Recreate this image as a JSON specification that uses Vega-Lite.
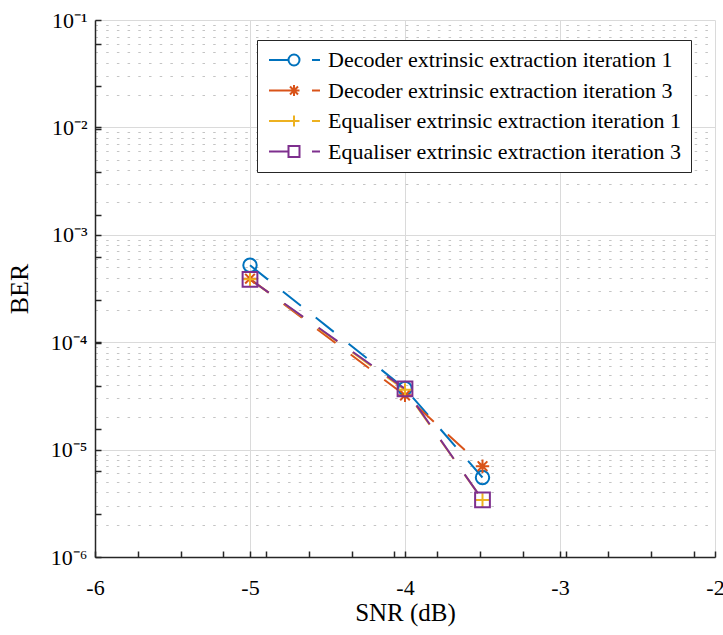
{
  "$schema": "https://vega.github.io/schema/vega-lite/v6.json",
  "width": 620,
  "height": 537,
  "autosize": "none",
  "padding": {"left": 95, "top": 20, "right": 8, "bottom": 78},
  "background": "white",
  "config": {
    "view": {"stroke": null},
    "font": "Liberation Serif",
    "axis": {
      "labelFont": "Liberation Serif",
      "titleFont": "Liberation Serif",
      "titleFontWeight": "normal",
      "labelColor": "#000000",
      "titleColor": "#000000",
      "domainColor": "#262626",
      "domainWidth": 1.5,
      "tickColor": "#262626",
      "tickWidth": 1.5,
      "tickSize": -6,
      "labelFlush": false,
      "labelOverlap": false,
      "labelBound": false,
      "labelFontSize": 22,
      "titleFontSize": 25
    }
  },
  "data": {
    "values": [
      {"series": "Decoder extrinsic extraction iteration 1", "snr": -5, "ber": 0.00052},
      {"series": "Decoder extrinsic extraction iteration 1", "snr": -4, "ber": 0.000037},
      {"series": "Decoder extrinsic extraction iteration 1", "snr": -3.5, "ber": 0.0000055},
      {"series": "Decoder extrinsic extraction iteration 3", "snr": -5, "ber": 0.00039},
      {"series": "Decoder extrinsic extraction iteration 3", "snr": -4, "ber": 0.000032},
      {"series": "Decoder extrinsic extraction iteration 3", "snr": -3.5, "ber": 0.0000070},
      {"series": "Equaliser extrinsic extraction iteration 1", "snr": -5, "ber": 0.000385},
      {"series": "Equaliser extrinsic extraction iteration 1", "snr": -4, "ber": 0.000036},
      {"series": "Equaliser extrinsic extraction iteration 1", "snr": -3.5, "ber": 0.0000034},
      {"series": "Equaliser extrinsic extraction iteration 3", "snr": -5, "ber": 0.000385},
      {"series": "Equaliser extrinsic extraction iteration 3", "snr": -4, "ber": 0.0000368},
      {"series": "Equaliser extrinsic extraction iteration 3", "snr": -3.5, "ber": 0.0000034}
    ]
  },
  "encoding": {
    "x": {
      "field": "snr",
      "type": "quantitative",
      "scale": {"domain": [-6, -2], "nice": false, "zero": false},
      "axis": {
        "title": "SNR (dB)",
        "values": [-6, -5, -4, -3, -2, -5.724, -5.448, -5.172, -4.896, -4.62, -4.344, -4.068, -3.792, -3.516, -3.24, -2.964, -2.688, -2.412, -2.136],
        "labelExpr": "abs(datum.value - round(datum.value)) < 1e-6 ? '' + round(datum.value) : ''",
        "grid": true,
        "gridColor": "#dadada",
        "gridWidth": 1,
        "gridOpacity": {"condition": {"test": "abs(datum.value - round(datum.value)) < 1e-6", "value": 1}, "value": 0},
        "labelPadding": 26,
        "titlePadding": 2
      }
    },
    "y": {
      "field": "ber",
      "type": "quantitative",
      "scale": {"type": "log", "domain": [0.000001, 0.1], "nice": false},
      "axis": {
        "title": "BER",
        "titleFontSize": 26,
        "values": [0.000001, 0.00001, 0.0001, 0.001, 0.01, 0.1,
          2e-6, 3e-6, 4e-6, 5e-6, 6e-6, 7e-6, 8e-6, 9e-6,
          2e-5, 3e-5, 4e-5, 5e-5, 6e-5, 7e-5, 8e-5, 9e-5,
          2e-4, 3e-4, 4e-4, 5e-4, 6e-4, 7e-4, 8e-4, 9e-4,
          2e-3, 3e-3, 4e-3, 5e-3, 6e-3, 7e-3, 8e-3, 9e-3,
          2e-2, 3e-2, 4e-2, 5e-2, 6e-2, 7e-2, 8e-2, 9e-2,
          2.502e-6, 6.262e-6, 1.567e-5, 3.923e-5, 9.817e-5, 2.457e-4, 6.149e-4, 1.539e-3, 3.851e-3, 9.638e-3, 2.412e-2, 6.037e-2],
        "labelExpr": "abs(log(datum.value)/LN10 - round(log(datum.value)/LN10)) < 1e-6 ? ['10⁻¹','10⁻²','10⁻³','10⁻⁴','10⁻⁵','10⁻⁶'][-round(log(datum.value)/LN10)-1] : ''",
        "grid": true,
        "gridWidth": 1,
        "gridOpacity": {"condition": {"test": "abs(log(datum.value)/LN10 - round(log(datum.value)/LN10)) < 1e-6 || abs(datum.value/pow(10,floor(log(datum.value)/LN10+1e-9)) - round(datum.value/pow(10,floor(log(datum.value)/LN10+1e-9)))) < 0.01", "value": 1}, "value": 0},
        "gridColor": {"condition": {"test": "abs(log(datum.value)/LN10 - round(log(datum.value)/LN10)) < 1e-6", "value": "#dadada"}, "value": "#c4c4c4"},
        "gridDash": {"condition": {"test": "abs(log(datum.value)/LN10 - round(log(datum.value)/LN10)) < 1e-6", "value": []}, "value": [2.5, 8.2]},
        "tickOpacity": {"condition": {"test": "abs(log(datum.value)/LN10 - round(log(datum.value)/LN10)) < 1e-6 || abs(datum.value/pow(10,floor(log(datum.value)/LN10+1e-9)) - round(datum.value/pow(10,floor(log(datum.value)/LN10+1e-9)))) >= 0.01", "value": 1}, "value": 0},
        "labelPadding": 14,
        "titlePadding": 18
      }
    }
  },
  "layer": [
    {
      "mark": {"type": "line", "strokeDash": [23, 19], "strokeWidth": 2},
      "encoding": {
        "color": {
          "field": "series",
          "type": "nominal",
          "scale": {
            "domain": ["Decoder extrinsic extraction iteration 1", "Decoder extrinsic extraction iteration 3", "Equaliser extrinsic extraction iteration 1", "Equaliser extrinsic extraction iteration 3"],
            "range": ["#0072BD", "#D95319", "#EDB120", "#7E2F8E"]
          },
          "legend": null
        }
      }
    },
    {
      "mark": {"type": "point", "filled": false, "strokeWidth": 2, "size": 180, "opacity": 1},
      "encoding": {
        "color": {
          "field": "series",
          "type": "nominal",
          "scale": {
            "domain": ["Decoder extrinsic extraction iteration 1", "Decoder extrinsic extraction iteration 3", "Equaliser extrinsic extraction iteration 1", "Equaliser extrinsic extraction iteration 3"],
            "range": ["#0072BD", "#D95319", "#EDB120", "#7E2F8E"]
          },
          "legend": null
        },
        "shape": {
          "field": "series",
          "type": "nominal",
          "scale": {
            "domain": ["Decoder extrinsic extraction iteration 1", "Decoder extrinsic extraction iteration 3", "Equaliser extrinsic extraction iteration 1", "Equaliser extrinsic extraction iteration 3"],
            "range": ["circle", "M0,-1V1M-1,0H1M-0.72,-0.72L0.72,0.72M-0.72,0.72L0.72,-0.72", "M0,-1V1M-1,0H1", "M-1.1,-1.1H1.1V1.1H-1.1Z"]
          },
          "legend": null
        }
      }
    },
    {
      "transform": [{"filter": "false"}],
      "mark": {"type": "point", "filled": false, "strokeWidth": 2, "size": 100, "opacity": 1},
      "encoding": {
        "color": {
          "field": "series",
          "type": "nominal",
          "scale": {
            "domain": ["Decoder extrinsic extraction iteration 1", "Decoder extrinsic extraction iteration 3", "Equaliser extrinsic extraction iteration 1", "Equaliser extrinsic extraction iteration 3"],
            "range": ["#0072BD", "#D95319", "#EDB120", "#7E2F8E"]
          },
          "legend": {
            "title": null,
            "orient": "none",
            "legendX": 162,
            "legendY": 20,
            "padding": 9,
            "rowPadding": 8.5,
            "strokeColor": "#262626",
            "fillColor": "white",
            "cornerRadius": 0,
            "labelFont": "Liberation Serif",
            "labelFontSize": 22,
            "labelColor": "#000000",
            "labelLimit": 0,
            "labelExpr": "datum.label + '\u2009'",
            "symbolSize": 100,
            "symbolStrokeWidth": 2,
            "symbolOpacity": 1,
            "symbolOffset": 17,
            "labelOffset": 23
          }
        },
        "shape": {
          "field": "series",
          "type": "nominal",
          "scale": {
            "domain": ["Decoder extrinsic extraction iteration 1", "Decoder extrinsic extraction iteration 3", "Equaliser extrinsic extraction iteration 1", "Equaliser extrinsic extraction iteration 3"],
            "range": [
              "M-5,0H-1.1M1.1,0A1.1,1.1,0,1,1,-1.1,0A1.1,1.1,0,1,1,1.1,0M3.6,0H5.2",
              "M-5,0H1.1M0,-1.1V1.1M-0.8,-0.8L0.8,0.8M-0.8,0.8L0.8,-0.8M3.6,0H5.2",
              "M-5,0H1.1M0,-1.1V1.1M3.6,0H5.2",
              "M-5,0H-1.1M-1.1,-1.1H1.1V1.1H-1.1ZM3.6,0H5.2"
            ]
          },
          "legend": {
            "title": null,
            "orient": "none",
            "legendX": 162,
            "legendY": 20,
            "padding": 9,
            "rowPadding": 8.5,
            "strokeColor": "#262626",
            "fillColor": "white",
            "cornerRadius": 0,
            "labelFont": "Liberation Serif",
            "labelFontSize": 22,
            "labelColor": "#000000",
            "labelLimit": 0,
            "labelExpr": "datum.label + '\u2009'",
            "symbolSize": 100,
            "symbolStrokeWidth": 2,
            "symbolOpacity": 1,
            "symbolOffset": 17,
            "labelOffset": 23
          }
        }
      }
    }
  ],
  "resolve": {"scale": {"color": "independent", "shape": "independent"}}
}
